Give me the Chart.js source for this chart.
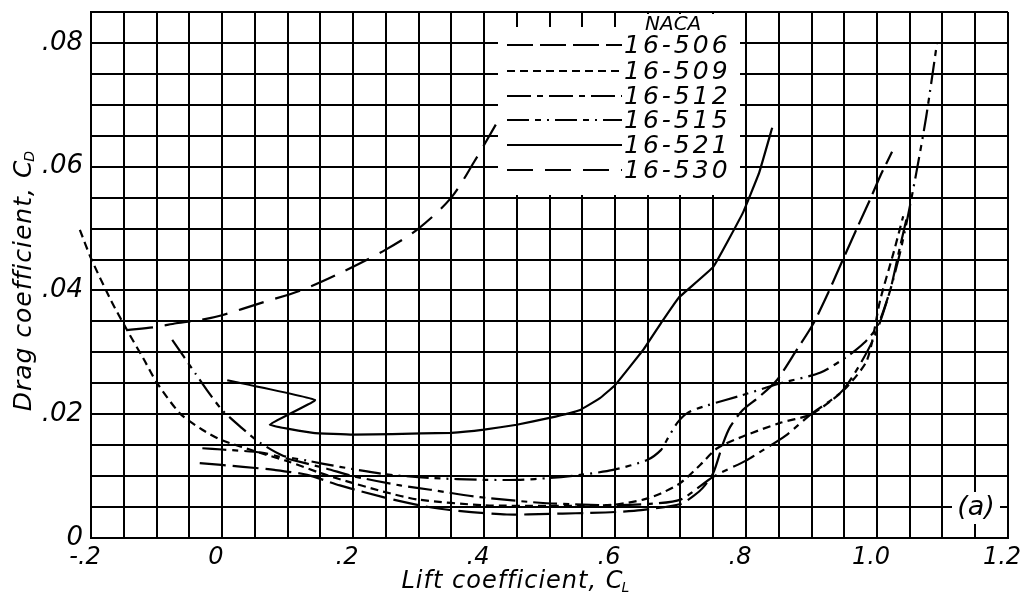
<!DOCTYPE html>
<html>
<head>
<meta charset="utf-8">
<script src="https://cdn.jsdelivr.net/npm/chart.js@4.4.1/dist/chart.umd.min.js"></script>
<style>
html, body { margin: 0; padding: 0; background: #fff; }
#wrap { width: 1021px; height: 595px; }
</style>
</head>
<body>
<div id="wrap"><canvas id="myChart"></canvas></div>
<script>
// axis ticks
var xTickValues = [-0.2, 0, 0.2, 0.4, 0.6, 0.8, 1.0, 1.2];
var xTickLabels = ['-.2', '0', '.2', '.4', '.6', '.8', '1.0', '1.2'];
var yTickValues = [0, 0.02, 0.04, 0.06, 0.08];
var yTickLabels = ['0', '.02', '.04', '.06', '.08'];

var sections = ['16-506', '16-509', '16-512', '16-515', '16-521', '16-530'];

// lift coefficient / drag coefficient
var cl506 = [-0.034, 0.032, 0.08, 0.13, 0.18, 0.246, 0.30, 0.35, 0.435, 0.50, 0.54, 0.60, 0.64, 0.70, 0.72, 0.734, 0.75, 0.765, 0.776, 0.795, 0.82, 0.847, 0.875, 0.902, 0.925, 0.948, 0.97, 0.989, 1.005, 1.023];
var cd506 = [0.0121, 0.0115, 0.0110, 0.0102, 0.0085, 0.0066, 0.0053, 0.0045, 0.0038, 0.0039, 0.0040, 0.0042, 0.0045, 0.0055, 0.0068, 0.0081, 0.0105, 0.0153, 0.0180, 0.0207, 0.0228, 0.0255, 0.0300, 0.0345, 0.0395, 0.0450, 0.0502, 0.0546, 0.0585, 0.0624];

var cl509 = [-0.217, -0.2, -0.17, -0.145, -0.12, -0.1, -0.064, -0.03, 0.0, 0.06, 0.1, 0.15, 0.18, 0.246, 0.30, 0.40, 0.50, 0.55, 0.60, 0.643, 0.67, 0.70, 0.73, 0.756, 0.795, 0.852, 0.898, 0.93, 0.954, 0.985, 1.005, 1.025, 1.04];
var cd509 = [0.0498, 0.0452, 0.0385, 0.0336, 0.0290, 0.0252, 0.0201, 0.0175, 0.0158, 0.0137, 0.0124, 0.0105, 0.0095, 0.0075, 0.0062, 0.0053, 0.0052, 0.0052, 0.0054, 0.0062, 0.0072, 0.0089, 0.0118, 0.0145, 0.0164, 0.0186, 0.0199, 0.0222, 0.0244, 0.0288, 0.0385, 0.0460, 0.0520];

var cl512 = [-0.03, 0.0, 0.06, 0.10, 0.16, 0.20, 0.272, 0.318, 0.394, 0.485, 0.55, 0.60, 0.65, 0.70, 0.75, 0.80, 0.826, 0.86, 0.898, 0.948, 0.994, 1.02, 1.035, 1.046];
var cd512 = [0.0145, 0.0143, 0.0138, 0.0128, 0.0112, 0.0100, 0.0085, 0.0078, 0.0066, 0.0057, 0.0054, 0.0053, 0.0055, 0.0062, 0.0099, 0.0125, 0.0142, 0.0165, 0.0199, 0.0239, 0.0320, 0.0400, 0.0470, 0.0520];

var cl515 = [-0.076, -0.04, -0.023, 0.0, 0.03, 0.058, 0.093, 0.13, 0.18, 0.25, 0.318, 0.40, 0.455, 0.50, 0.547, 0.597, 0.649, 0.67, 0.679, 0.695, 0.712, 0.74, 0.795, 0.852, 0.913, 0.954, 0.98, 1.0, 1.02, 1.035, 1.046, 1.06, 1.075, 1.093];
var cd515 = [0.0320, 0.0265, 0.0239, 0.0207, 0.0178, 0.0154, 0.0133, 0.0125, 0.0115, 0.0103, 0.0097, 0.0094, 0.0094, 0.0097, 0.0102, 0.0110, 0.0126, 0.0142, 0.0158, 0.0186, 0.0203, 0.0214, 0.0231, 0.0250, 0.0267, 0.0293, 0.0315, 0.0341, 0.0400, 0.0460, 0.0514, 0.0590, 0.0680, 0.0810];

var cl521 = [0.008, 0.142, 0.073, 0.139, 0.20, 0.26, 0.35, 0.40, 0.45, 0.50, 0.547, 0.577, 0.60, 0.643, 0.67, 0.697, 0.75, 0.795, 0.82, 0.84];
var cd521 = [0.0255, 0.0223, 0.0183, 0.0170, 0.0167, 0.0168, 0.0170, 0.0175, 0.0183, 0.0194, 0.0207, 0.0226, 0.0247, 0.0304, 0.0347, 0.0388, 0.0438, 0.0525, 0.0590, 0.0663];

var cl530 = [-0.145, -0.10, -0.07, -0.03, 0.0, 0.06, 0.12, 0.18, 0.25, 0.30, 0.35, 0.385, 0.418];
var cd530 = [0.0336, 0.0341, 0.0347, 0.0353, 0.0360, 0.0380, 0.0400, 0.0428, 0.0466, 0.0500, 0.0550, 0.0608, 0.0668];

var FONT = 'DejaVu Sans';

function pairs(xs, ys) {
    var out = [];
    for (var i = 0; i < xs.length; i++) out.push({x: xs[i], y: ys[i]});
    return out;
}

function pickLabel(v, vals, labs) {
    for (var i = 0; i < vals.length; i++) {
        if (Math.abs(v - vals[i]) < 1e-6) return labs[i];
    }
    return '';
}

function curve(label, xs, ys, dash, tension) {
    return {
        label: label,
        data: pairs(xs, ys),
        borderColor: '#000',
        borderWidth: 2.2,
        borderDash: dash,
        pointRadius: 0,
        tension: tension,
        fill: false,
        clip: {left: 14, top: 0, right: 0, bottom: 0}
    };
}

// white patches, legend, axis titles with subscripts
var paperPlugin = {
    id: 'paper',
    beforeDatasetsDraw: function(chart) {
        var ctx = chart.ctx;
        ctx.save();
        ctx.fillStyle = '#fff';
        ctx.fillRect(498, 27, 242, 168);
        ctx.fillRect(634, 14, 106, 14);
        ctx.fillRect(952, 492, 48, 32);
        ctx.restore();
    },
    afterDatasetsDraw: function(chart) {
        var ctx = chart.ctx;
        var rows = [45, 71, 96, 120, 145, 170];
        ctx.save();
        ctx.fillStyle = '#000';
        ctx.strokeStyle = '#000';
        ctx.font = 'italic 20px ' + FONT;
        ctx.textAlign = 'left';
        ctx.textBaseline = 'middle';
        ctx.fillText('NACA', 645, 25);
        chart.data.datasets.forEach(function(ds, i) {
            ctx.lineWidth = 2;
            ctx.setLineDash(ds.borderDash || []);
            ctx.beginPath();
            ctx.moveTo(507, rows[i]);
            ctx.lineTo(622, rows[i]);
            ctx.stroke();
            ctx.setLineDash([]);
            ctx.font = 'italic 25px ' + FONT;
            ctx.letterSpacing = '3px';
            ctx.fillText(ds.label, 624, rows[i] + 1);
            ctx.letterSpacing = '0px';
        });
        ctx.font = 'italic 27px ' + FONT;
        ctx.textAlign = 'center';
        ctx.fillText('(a)', 976, 508);

        // x title
        ctx.textAlign = 'left';
        ctx.textBaseline = 'alphabetic';
        ctx.font = 'italic 24px ' + FONT;
        ctx.letterSpacing = '1px';
        var main = 'Lift coefficient, C';
        var w = ctx.measureText(main).width;
        var x0 = 517 - (w + 9) / 2;
        ctx.fillText(main, x0, 588);
        ctx.letterSpacing = '0px';
        ctx.font = 'italic 14px ' + FONT;
        ctx.fillText('L', x0 + w - 2, 592);

        // y title
        ctx.translate(22, 281);
        ctx.rotate(-Math.PI / 2);
        ctx.font = 'italic 25px ' + FONT;
        ctx.letterSpacing = '1px';
        main = 'Drag coefficient, C';
        w = ctx.measureText(main).width;
        x0 = -(w + 9) / 2;
        ctx.fillText(main, x0, 9);
        ctx.letterSpacing = '0px';
        ctx.font = 'italic 14px ' + FONT;
        ctx.fillText('D', x0 + w - 2, 12);
        ctx.restore();
    }
};

var ctx = document.getElementById('myChart').getContext('2d');
var myChart = new Chart(ctx, {
    type: 'scatter',
    data: {
        datasets: [
            curve(sections[0], cl506, cd506, [26, 7], 0.25),
            curve(sections[1], cl509, cd509, [8, 5], 0.25),
            curve(sections[2], cl512, cd512, [24, 6, 6, 6], 0.25),
            curve(sections[3], cl515, cd515, [22, 6, 6, 6, 2, 6], 0.25),
            curve(sections[4], cl521, cd521, [], 0.08),
            curve(sections[5], cl530, cd530, [26, 12], 0.3)
        ]
    },
    options: {
        responsive: true,
        maintainAspectRatio: false,
        animation: false,
        showLine: true,
        layout: {padding: {left: 0, right: 13, top: 12, bottom: 0}},
        plugins: {
            legend: {display: false},
            tooltip: {enabled: false}
        },
        scales: {
            x: {
                type: 'linear',
                min: -0.2,
                max: 1.2,
                afterFit: function(s) { s.height = 57; s.paddingLeft = 0; s.paddingRight = 0; },
                grid: {color: '#000', lineWidth: 2, drawTicks: false},
                border: {color: '#000', width: 2},
                ticks: {
                    stepSize: 0.05,
                    autoSkip: false,
                    maxRotation: 0,
                    padding: 5,
                    labelOffset: -6,
                    color: '#000',
                    font: {family: FONT, size: 24, style: 'italic'},
                    callback: function(v) { return pickLabel(v, xTickValues, xTickLabels); }
                }
            },
            y: {
                type: 'linear',
                min: 0,
                max: 0.085,
                afterFit: function(s) { s.width = 91; s.paddingTop = 0; s.paddingBottom = 0; },
                grid: {color: '#000', lineWidth: 2, drawTicks: false},
                border: {color: '#000', width: 2},
                ticks: {
                    stepSize: 0.005,
                    autoSkip: false,
                    padding: 8,
                    color: '#000',
                    font: {family: FONT, size: 26, style: 'italic'},
                    callback: function(v) { return pickLabel(v, yTickValues, yTickLabels); }
                }
            }
        }
    },
    plugins: [paperPlugin]
});
</script>
</body>
</html>
